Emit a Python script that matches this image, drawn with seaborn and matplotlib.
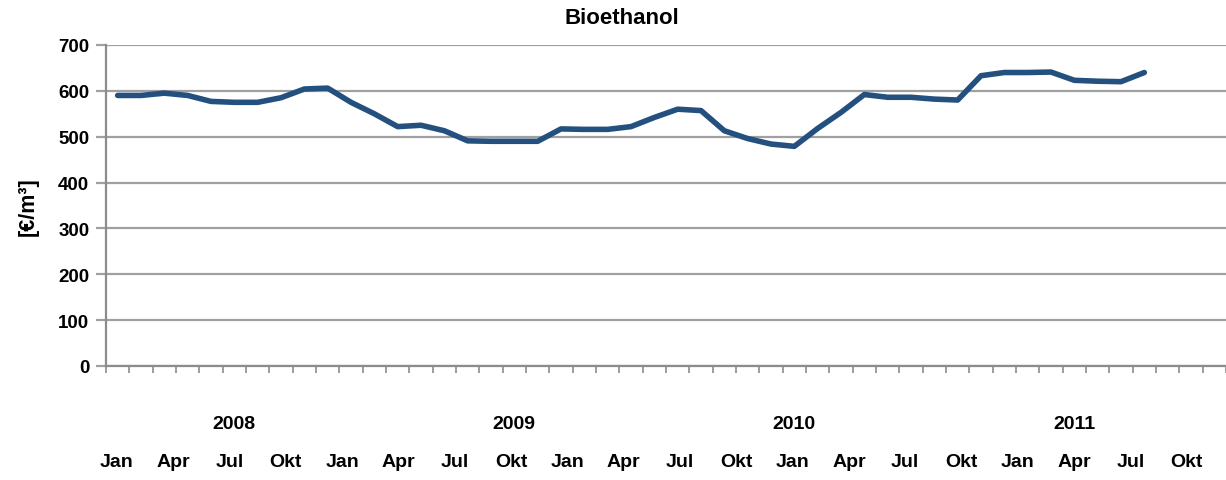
import numpy as np
import pandas as pd
import matplotlib
matplotlib.use("Agg")
import matplotlib.pyplot as plt
import matplotlib.transforms as mtransforms
import seaborn as sns

# ---- data ----
title = "Bioethanol"
ylabel = "[€/m³]"
years = ["2008", "2009", "2010", "2011"]
month_labels = ["Jan", "Apr", "Jul", "Okt"] * 5
values = [590, 590, 595, 590, 577, 575, 575, 585, 604, 606,
          575, 550, 522, 525, 513, 491, 490, 490, 490, 517,
          516, 516, 522, 542, 560, 557, 513, 496, 484, 479,
          518, 553, 592, 586, 586, 582, 580, 633, 640, 640,
          641, 623, 621, 620, 640]
n_categories = 48

df = pd.DataFrame({"month": np.arange(len(values)), "price": values})

sns.set_theme(style="white")
plt.rcParams["font.family"] = ["Liberation Sans", "DejaVu Sans"]
plt.rcParams["font.weight"] = "bold"
plt.rcParams["text.color"] = "black"
plt.rcParams["axes.labelcolor"] = "black"
plt.rcParams["xtick.labelcolor"] = "black"
plt.rcParams["ytick.labelcolor"] = "black"

fig = plt.figure(figsize=(12.26, 4.81), dpi=100)
ax = fig.add_axes([106 / 1226, 1 - 367 / 481, 1 - 106 / 1226, (367 - 46) / 481])

sns.lineplot(data=df, x="month", y="price", ax=ax, color="#24507F",
             linewidth=4.0, solid_joinstyle="round", solid_capstyle="round")

ax.set_xlim(-0.5, n_categories - 0.5)
ax.set_ylim(0, 700)
ax.set_yticks(np.arange(0, 701, 100))
ax.set_yticklabels([str(v) for v in range(0, 701, 100)], fontsize=13.5,
                   fontweight="bold", color="black")
ax.grid(axis="y", color="#a0a0a0", linewidth=1.6)
ax.set_axisbelow(True)

ax.set_xticks(np.arange(-0.5, n_categories, 1.0))
ax.set_xticklabels([])
ax.tick_params(axis="x", direction="out", length=5, width=1.2, color="#8c8c8c", bottom=True)
ax.tick_params(axis="y", direction="out", length=7, width=1.6, color="#a0a0a0", left=True, pad=5)

for s in ["top", "right"]:
    ax.spines[s].set_visible(False)
for s in ["left", "bottom"]:
    ax.spines[s].set_color("#8c8c8c")
    ax.spines[s].set_linewidth(1.6)

ax.set_xlabel("")
ax.set_ylabel(ylabel, fontsize=15.5, fontweight="bold", labelpad=14, color="black")

# year labels (data x, axes y)
trans = mtransforms.blended_transform_factory(ax.transData, ax.transAxes)
for k, yr in enumerate(years):
    ax.text(12 * k + 5, -0.178, yr, transform=trans, ha="center", va="center",
            fontsize=14, fontweight="bold", color="black")

# month labels row
xs = np.linspace(0.0098, 0.965, len(month_labels))
for x, lab in zip(xs, month_labels):
    ax.text(x, -0.299, lab, transform=ax.transAxes, ha="center", va="center",
            fontsize=14, fontweight="bold", color="black")

fig.text(622 / 1226, 1 - 18 / 481, title, ha="center", va="center",
         fontsize=16, fontweight="bold", color="black")

fig.savefig("out.png", dpi=100, facecolor="white")
